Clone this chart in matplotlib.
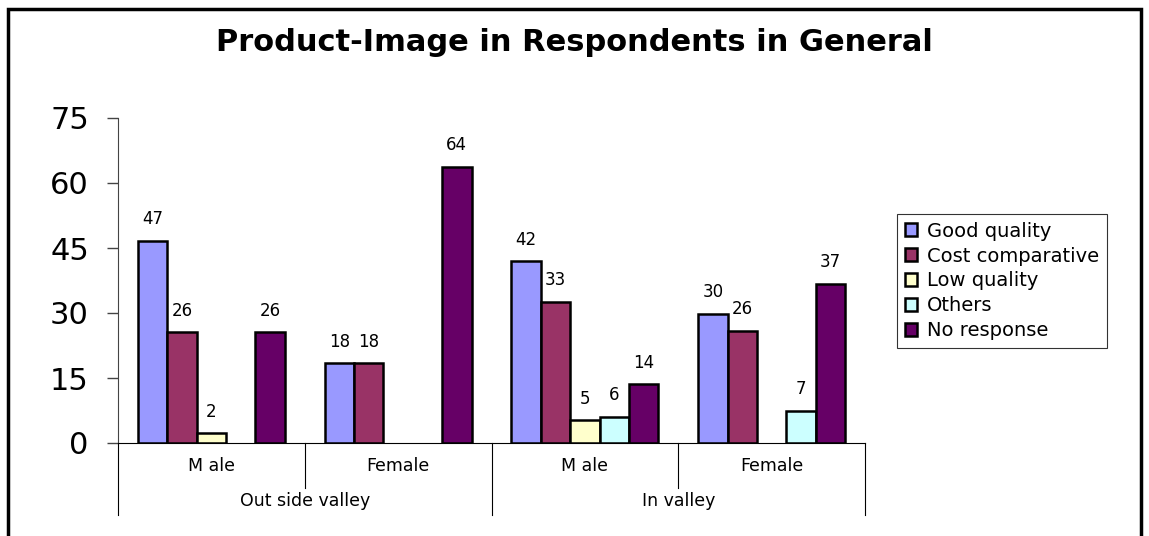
import matplotlib.pyplot as plt
import matplotlib.patches as patches
import numpy as np

# groups and series
sub_groups = ["M ale", "Female", "M ale", "Female"]
main_groups = ["Out side valley", "In valley"]
series = ["Good quality", "Cost comparative", "Low quality", "Others", "No response"]

good_quality = [46.7, 18.4, 41.9, 29.8]
cost_comparative = [25.6, 18.4, 32.6, 25.9]
low_quality = [2.3, 0, 5.2, 0]
others = [0, 0, 6.1, 7.4]
no_response = [25.6, 63.7, 13.6, 36.8]

yticks = [0, 15, 30, 45, 60, 75]

colors = ["#9999FF", "#993366", "#FFFFCC", "#CCFFFF", "#660066"]
all_values = [good_quality, cost_comparative, low_quality, others, no_response]

plt.rcParams['font.family'] = ['DejaVu Sans']

fig = plt.figure(figsize=(11.49, 5.36), dpi=100)
ax = fig.add_axes([118 / 1149, 1 - 443 / 536, (865 - 118) / 1149, 325 / 536])

n = len(series)
gap = 0.214
w = (1 - gap) / n
x = np.arange(len(sub_groups)) + 0.5

for i, (name, vals) in enumerate(zip(series, all_values)):
    pos = x - 0.5 + gap / 2 + w * (i + 0.5)
    vals = np.array(vals, dtype=float)
    mask = vals > 0
    ax.bar(pos[mask], vals[mask], width=w, color=colors[i], edgecolor="black",
           linewidth=1.8, label=name)
    for p, v in zip(pos[mask], vals[mask]):
        ax.annotate(f"{v:.0f}", (p, v), xytext=(0, 9), textcoords="offset points",
                    ha="center", va="bottom", fontsize=12)

ax.set_xlim(0, len(sub_groups))
ax.set_ylim(0, 75)
ax.set_yticks(yticks)
ax.tick_params(axis="y", length=8, width=1, color="#444444", labelsize=22, pad=13)
ax.set_xticks([])
for s in ["top", "right"]:
    ax.spines[s].set_visible(False)
ax.spines["left"].set_color("#444444")
ax.spines["bottom"].set_color("black")

# multi-level category axis
tr = ax.get_xaxis_transform()
for b in range(len(sub_groups) + 1):
    y_end = -0.222 if b % 2 == 0 else -0.138
    ax.plot([b, b], [0, y_end], transform=tr, color="black", lw=0.8, clip_on=False)
for xi, lab in zip(x, sub_groups):
    ax.text(xi, -0.07, lab, transform=tr, ha="center", va="center", fontsize=12.5)
for j, lab in enumerate(main_groups):
    ax.text(2 * j + 1, -0.178, lab, transform=tr, ha="center", va="center", fontsize=12.5)

fig.suptitle("Product-Image in Respondents in General", x=0.5, y=1 - 42 / 536,
             va="center", fontsize=22, fontweight="bold")

leg = fig.legend(loc="upper left", bbox_to_anchor=(897 / 1149, 1 - 214 / 536),
                 fontsize=14, frameon=True, fancybox=False, edgecolor="black",
                 handlelength=0.65, handleheight=0.65, handletextpad=0.5,
                 labelspacing=0.3, borderpad=0.4, borderaxespad=0)
leg.get_frame().set_linewidth(0.8)

# outer chart border
fig.patches.append(patches.Rectangle((8 / 1149, -0.02), (1141 - 8) / 1149, 1.02 - 9 / 536,
                                     transform=fig.transFigure, fill=False,
                                     edgecolor="black", linewidth=2.5))

fig.savefig("out.png", dpi=100)
